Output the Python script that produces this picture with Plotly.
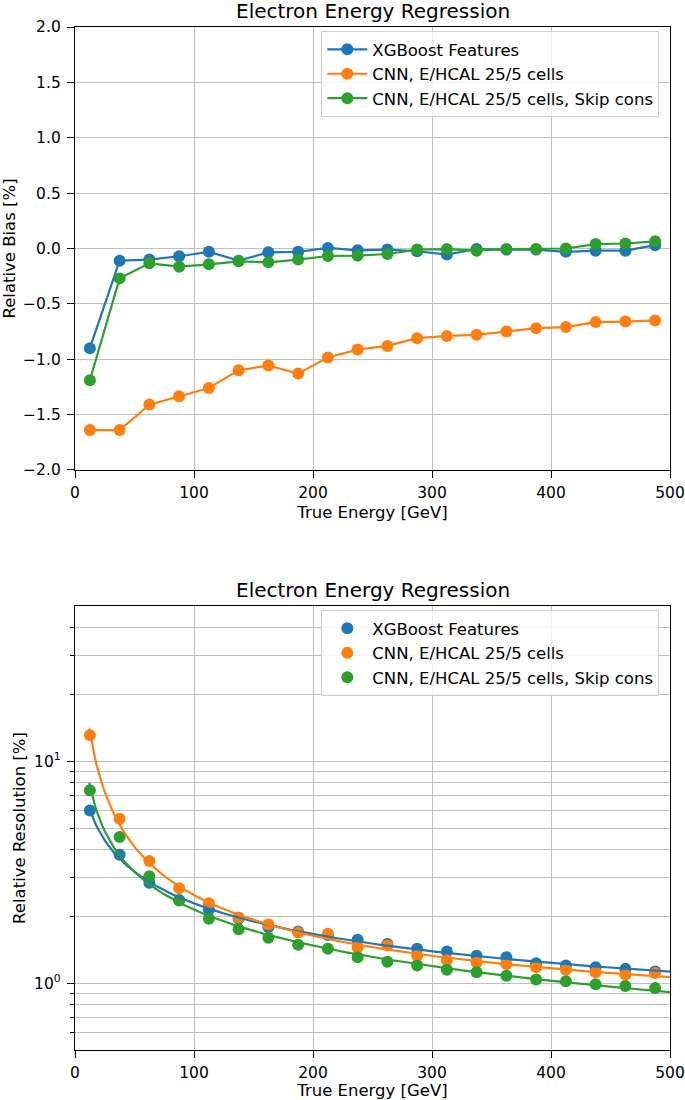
import numpy as np
import plotly.graph_objects as go

energy = [12.5, 37.5, 62.5, 87.5, 112.5, 137.5, 162.5, 187.5, 212.5, 237.5,
          262.5, 287.5, 312.5, 337.5, 362.5, 387.5, 412.5, 437.5, 462.5, 487.5]

names = ["XGBoost Features", "CNN, E/HCAL 25/5 cells", "CNN, E/HCAL 25/5 cells, Skip cons"]
colors = ["#1f77b4", "#ff7f0e", "#2ca02c"]

bias_xgb = [-0.90, -0.11, -0.10, -0.07, -0.03, -0.11, -0.035, -0.03, 0.005, -0.017,
            -0.01, -0.025, -0.055, -0.005, -0.01, -0.01, -0.03, -0.02, -0.02, 0.03]
bias_cnn = [-1.64, -1.64, -1.41, -1.335, -1.26, -1.10, -1.057, -1.13, -0.985, -0.913,
            -0.88, -0.81, -0.79, -0.78, -0.75, -0.72, -0.71, -0.665, -0.66, -0.65]
bias_skip = [-1.19, -0.27, -0.134, -0.164, -0.143, -0.116, -0.125, -0.10, -0.068, -0.065,
             -0.05, -0.01, -0.005, -0.02, -0.005, -0.005, 0.0, 0.04, 0.045, 0.065]

res_xgb = [5.99, 3.79, 2.83, 2.37, 2.15, 1.95, 1.79, 1.71, 1.65, 1.57,
           1.50, 1.43, 1.39, 1.33, 1.31, 1.23, 1.20, 1.18, 1.16, 1.13]
res_cnn = [13.1, 5.51, 3.55, 2.68, 2.29, 1.976, 1.84, 1.69, 1.67, 1.45,
           1.48, 1.33, 1.27, 1.24, 1.22, 1.18, 1.15, 1.12, 1.09, 1.11]
res_skip = [7.4, 4.55, 3.03, 2.36, 1.95, 1.75, 1.60, 1.49, 1.43, 1.31,
            1.25, 1.20, 1.15, 1.12, 1.08, 1.04, 1.02, 0.99, 0.97, 0.95]

biases = [bias_xgb, bias_cnn, bias_skip]
resols = [res_xgb, res_cnn, res_skip]


def fit_resolution(x, y):
    # sigma^2 = a/E + b/E^2 + c  (weighted linear least squares on the data points)
    x = np.asarray(x, float)
    y = np.asarray(y, float)
    A = np.vstack([1.0 / x, 1.0 / x ** 2, np.ones_like(x)]).T
    w = 1.0 / y ** 2
    coef, *_ = np.linalg.lstsq(A * w[:, None], y ** 2 * w, rcond=None)
    xf = np.linspace(12.0, 500.0, 300)
    yf = np.sqrt(np.clip(coef[0] / xf + coef[1] / xf ** 2 + coef[2], 1e-6, None))
    return xf, yf


fig = go.Figure()

for i in range(3):
    fig.add_trace(go.Scatter(
        x=energy, y=biases[i], mode="lines+markers", name=names[i],
        line=dict(color=colors[i], width=2.2),
        marker=dict(color=colors[i], size=12),
        xaxis="x", yaxis="y", legend="legend", legendgroup="t%d" % i))

for i in range(3):
    fig.add_trace(go.Scatter(
        x=energy, y=resols[i], mode="markers", name=names[i],
        marker=dict(color=colors[i], size=12),
        xaxis="x2", yaxis="y2", legend="legend2", legendgroup="b%d" % i))
for i in range(3):
    xf, yf = fit_resolution(energy, resols[i])
    fig.add_trace(go.Scatter(
        x=xf, y=yf, mode="lines", showlegend=False,
        line=dict(color=colors[i], width=2.2),
        xaxis="x2", yaxis="y2", legendgroup="b%d" % i, hoverinfo="skip"))

font = dict(family="DejaVu Sans", size=16, color="black")
axis_common = dict(
    showline=True, linecolor="black", linewidth=1.3, mirror=True,
    ticks="outside", ticklen=7, tickcolor="black", tickwidth=1.3,
    showgrid=True, gridcolor="#c0c0c0", gridwidth=1.3, zeroline=False,
    tickfont=dict(family="DejaVu Sans", size=15.5, color="black"),
    ticklabeloverflow="allow",
    automargin=False,
)
title_font = dict(family="DejaVu Sans", size=16.5, color="black")

minor_vals = [0.6, 0.7, 0.8, 0.9, 2, 3, 4, 5, 6, 7, 8, 9, 20, 30, 40]

fig.update_layout(
    width=685, height=1100,
    margin=dict(l=75, r=15, t=27, b=50, autoexpand=False),
    paper_bgcolor="white", plot_bgcolor="white",
    font=font,
    showlegend=True,
    xaxis=dict(domain=[0, 1], range=[0, 500], anchor="y",
               tickvals=[0, 100, 200, 300, 400, 500], ticklabelstandoff=1,
               title=dict(text="True Energy [GeV]", font=title_font, standoff=5),
               **axis_common),
    yaxis=dict(domain=[0.567, 1], range=[-2, 2], anchor="x",
               tickvals=[-2, -1.5, -1, -0.5, 0, 0.5, 1, 1.5, 2], ticklabelstandoff=3,
               ticktext=["\u22122.0", "\u22121.5", "\u22121.0", "\u22120.5", "0.0", "0.5", "1.0", "1.5", "2.0"],
               title=dict(text="Relative Bias [%]", font=title_font, standoff=4),
               **axis_common),
    xaxis2=dict(domain=[0, 1], range=[0, 500], anchor="y2",
                tickvals=[0, 100, 200, 300, 400, 500], ticklabelstandoff=1,
                title=dict(text="True Energy [GeV]", font=title_font, standoff=5),
                **axis_common),
    yaxis2=dict(domain=[0, 0.434], type="log", range=[np.log10(0.5), np.log10(50)], anchor="x2",
                tickvals=[1, 10], ticktext=["10<sup>0</sup>", "10<sup>1</sup>"], ticklabelstandoff=3,
                minor=dict(tickvals=minor_vals, ticks="outside", ticklen=4, tickcolor="black",
                           tickwidth=1, showgrid=True, gridcolor="#c0c0c0", gridwidth=1.3),
                title=dict(text="Relative Resolution [%]", font=title_font, standoff=4),
                **axis_common),
    legend=dict(x=0.414, y=0.996, xanchor="left", yanchor="top",
                bgcolor="rgba(255,255,255,0.8)", bordercolor="#d0d0d0", borderwidth=1,
                font=dict(family="DejaVu Sans", size=16.5), tracegroupgap=0, itemwidth=40),
    legend2=dict(x=0.414, y=0.4301, xanchor="left", yanchor="top",
                 bgcolor="rgba(255,255,255,0.8)", bordercolor="#d0d0d0", borderwidth=1,
                 font=dict(family="DejaVu Sans", size=16.5), tracegroupgap=0, itemwidth=40),
    annotations=[
        dict(text="Electron Energy Regression", x=0.5, y=1, xref="paper", yref="paper",
             xanchor="center", yanchor="bottom", yshift=2, showarrow=False,
             font=dict(family="DejaVu Sans", size=20)),
        dict(text="Electron Energy Regression", x=0.5, y=0.434, xref="paper", yref="paper",
             xanchor="center", yanchor="bottom", yshift=2, showarrow=False,
             font=dict(family="DejaVu Sans", size=20)),
    ],
)

fig.write_html("out.html", config={"displayModeBar": False},
               post_script="document.body.style.margin='0';")
